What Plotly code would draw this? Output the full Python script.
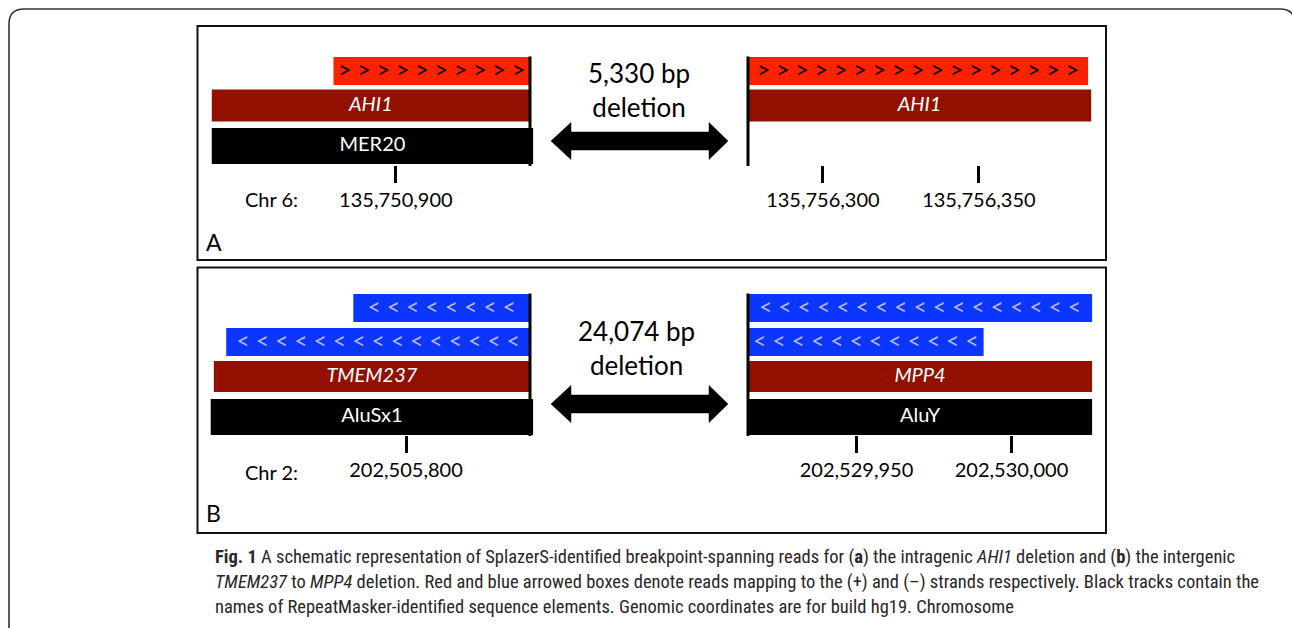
import plotly.graph_objects as go

W, H = 1292, 628

# ---------------- data (genomic coordinates, hg19) ----------------
# Panel A : intragenic AHI1 deletion, chr6
A_LEFT_BREAK = 135750943
A_RIGHT_BREAK = 135756276
A_LEFT_READS = [(135750880, 135750943)]            # (+) strand reads
A_RIGHT_READS = [(135756276, 135756385)]
A_LEFT_GENE = ("AHI1", 135750841, 135750943)
A_RIGHT_GENE = ("AHI1", 135756276, 135756386)
A_LEFT_REPEAT = ("MER20", 135750841, 135750944)
A_LEFT_TICKS = [135750900]
A_RIGHT_TICKS = [135756300, 135756350]
A_LEFT_GLYPHS = [10]
A_RIGHT_GLYPHS = [17]

# Panel B : intergenic TMEM237 -> MPP4 deletion, chr2
B_LEFT_BREAK = 202505840
B_RIGHT_BREAK = 202529915
B_LEFT_READS = [(202505783, 202505840), (202505742, 202505840)]   # (-) strand reads
B_RIGHT_READS = [(202529915, 202530026), (202529915, 202529991)]
B_LEFT_GENE = ("TMEM237", 202505738, 202505840)
B_RIGHT_GENE = ("MPP4", 202529915, 202530026)
B_LEFT_REPEAT = ("AluSx1", 202505737, 202505841)
B_RIGHT_REPEAT = ("AluY", 202529915, 202530026)
B_LEFT_TICKS = [202505800]
B_RIGHT_TICKS = [202529950, 202530000]
B_LEFT_GLYPHS = [8, 15]
B_RIGHT_GLYPHS = [17, 12]

DELETION_LABELS = ["5,330 bp<br>deletion", "24,074 bp<br>deletion"]
CHROM_LABELS = ["Chr 6:", "Chr 2:"]
PANEL_LABELS = ["A", "B"]

# ---------------- layout / style constants ----------------
FONT = "Lato"
RED_READ = "#FF2200"
BLUE_READ = "#0A36FF"
GENE_COL = "#921000"
REPEAT_COL = "#000000"
PX_PER_BP_A = 3.12
PX_PER_BP_B = 3.10
GLYPH_PITCH_PX = 19.3
LEFT_BREAK_PX, RIGHT_BREAK_PX = 530, 748
LEFT_DOM, RIGHT_DOM = (205, 540), (740, 1100)

# track rows (top, bottom) in pixels
A_ROWS = {"read": [(57, 85)], "gene": (89.5, 121.5), "repeat": (128, 164), "axis": 165}
B_ROWS = {"read": [(294, 322), (328, 356)], "gene": (361, 392), "repeat": (399, 435), "axis": 435}


def fx(px):
    return px / W


def fy(py):
    return 1 - py / H


fig = go.Figure()


def axis_range(dom, anchor_px, anchor_bp, s):
    return [anchor_bp + (dom[0] - anchor_px) / s, anchor_bp + (dom[1] - anchor_px) / s]


def add_bar(xa, start, end, rows, color):
    top, bot = rows
    fig.add_trace(go.Bar(
        orientation="h", base=[start], x=[end - start], y=[(top + bot) / 2],
        width=[bot - top], marker=dict(color=color, line=dict(width=0)),
        xaxis=xa, yaxis="y", hoverinfo="skip", showlegend=False))


def add_text(xa, xs, y, texts, size, color, family=FONT):
    fig.add_trace(go.Scatter(
        x=list(xs), y=[y] * len(xs), mode="text", text=list(texts),
        textfont=dict(family=family, size=size, color=color),
        textposition="middle center", xaxis=xa, yaxis="y",
        hoverinfo="skip", showlegend=False, cliponaxis=False))


def half(xa, reads, glyphs, strand, gene, repeat, rows, scale):
    pitch = GLYPH_PITCH_PX / scale
    for (s, e), n, r in zip(reads, glyphs, rows["read"]):
        col = RED_READ if strand == "+" else BLUE_READ
        add_bar(xa, s, e, r, col)
        g = ">" if strand == "+" else "<"
        gcol = "#000000" if strand == "+" else "#B9B9CF"
        mid = (s + e) / 2
        xs = [mid + (i - (n - 1) / 2) * pitch for i in range(n)]
        add_text(xa, xs, (r[0] + r[1]) / 2 + 1, [g] * n, 23, gcol, family="Lato")
    if gene:
        name, s, e = gene
        add_bar(xa, s, e, rows["gene"], GENE_COL)
        add_text(xa, [(s + e) / 2], sum(rows["gene"]) / 2, ["<i>%s</i>" % name], 20, "white")
    if repeat:
        name, s, e = repeat
        add_bar(xa, s, e, rows["repeat"], REPEAT_COL)
        add_text(xa, [(s + e) / 2], sum(rows["repeat"]) / 2, [name], 20, "white")


half("x", A_LEFT_READS, A_LEFT_GLYPHS, "+", A_LEFT_GENE, A_LEFT_REPEAT, A_ROWS, PX_PER_BP_A)
half("x2", A_RIGHT_READS, A_RIGHT_GLYPHS, "+", A_RIGHT_GENE, None, A_ROWS, PX_PER_BP_A)
half("x3", B_LEFT_READS, B_LEFT_GLYPHS, "-", B_LEFT_GENE, B_LEFT_REPEAT, B_ROWS, PX_PER_BP_B)
half("x4", B_RIGHT_READS, B_RIGHT_GLYPHS, "-", B_RIGHT_GENE, B_RIGHT_REPEAT, B_ROWS, PX_PER_BP_B)


def xaxis(dom, anchor_px, anchor_bp, s, ticks, axis_py):
    return dict(domain=[fx(dom[0]), fx(dom[1])],
                range=axis_range(dom, anchor_px, anchor_bp, s),
                anchor="free", position=fy(axis_py),
                tickmode="array", tickvals=ticks, tickformat=",d",
                ticks="outside", ticklen=17, tickwidth=3, tickcolor="black",
                showgrid=False, zeroline=False, showline=False, fixedrange=True,
                tickfont=dict(family=FONT, size=20, color="black"))


shapes = []
# outer rounded frame
shapes.append(dict(type="path", xref="paper", yref="paper",
                   path="M %f,%f L %f,%f Q %f,%f %f,%f L %f,%f Q %f,%f %f,%f L %f,%f" % (
                       fx(9), fy(660), fx(9), fy(24), fx(9), fy(9), fx(24), fy(9),
                       fx(1280), fy(9), fx(1295), fy(9), fx(1295), fy(24), fx(1295), fy(660)),
                   line=dict(color="#333333", width=1.6)))
# panel boxes
for (t, b) in [(26, 260), (267.5, 533)]:
    shapes.append(dict(type="rect", xref="paper", yref="paper",
                       x0=fx(197.5), x1=fx(1106), y0=fy(b), y1=fy(t),
                       line=dict(color="#111111", width=2)))
# breakpoint lines
for xa, bp, rows in [("x", A_LEFT_BREAK, A_ROWS), ("x2", A_RIGHT_BREAK, A_ROWS),
                     ("x3", B_LEFT_BREAK, B_ROWS), ("x4", B_RIGHT_BREAK, B_ROWS)]:
    shapes.append(dict(type="line", xref=xa, yref="y", x0=bp, x1=bp,
                       y0=rows["read"][0][0] - 0.5, y1=rows["axis"] + 1,
                       line=dict(color="black", width=3)))


# double-headed deletion arrows
def dbl_arrow(cy):
    pts = [(551, cy), (571, cy - 18.5), (571, cy - 9), (709, cy - 9), (709, cy - 18.5),
           (728, cy), (709, cy + 18.5), (709, cy + 9), (571, cy + 9), (571, cy + 18.5)]
    return "M " + " L ".join("%f,%f" % (fx(a), fy(b)) for a, b in pts) + " Z"


for cy in (141, 404):
    shapes.append(dict(type="path", xref="paper", yref="paper", path=dbl_arrow(cy),
                       fillcolor="black", line=dict(color="black", width=0.5)))

annotations = []
for lab, cy, cx in zip(DELETION_LABELS, (90, 348), (639, 636)):
    annotations.append(dict(text=lab, x=fx(cx), y=fy(cy), xref="paper", yref="paper",
                            showarrow=False, xanchor="center", yanchor="middle",
                            font=dict(family=FONT, size=26, color="black")))
for lab, cy in zip(CHROM_LABELS, (199, 472)):
    annotations.append(dict(text=lab, x=fx(271), y=fy(cy), xref="paper", yref="paper",
                            showarrow=False, xanchor="center", yanchor="middle",
                            font=dict(family=FONT, size=20, color="black")))
for lab, cy in zip(PANEL_LABELS, (242, 513)):
    annotations.append(dict(text=lab, x=fx(213.5), y=fy(cy), xref="paper", yref="paper",
                            showarrow=False, xanchor="center", yanchor="middle",
                            font=dict(family=FONT, size=23, color="black")))

CAPTION = [
    "<b>Fig. 1</b> A schematic representation of SplazerS-identified breakpoint-spanning reads for "
    "(<b>a</b>) the intragenic <i>AHI1</i> deletion and (<b>b</b>) the intergenic",
    "<i>TMEM237</i> to <i>MPP4</i> deletion. Red and blue arrowed boxes denote reads mapping to the "
    "(+) and (\u2013) strands respectively. Black tracks contain the",
    "names of RepeatMasker-identified sequence elements. Genomic coordinates are for build hg19. Chromosome",
]
for line, cy in zip(CAPTION, (557, 582, 607)):
    annotations.append(dict(text=line, x=fx(213), y=fy(cy), xref="paper", yref="paper",
                            showarrow=False, xanchor="left", yanchor="middle",
                            font=dict(family="Liberation Sans Narrow, Roboto Condensed, Liberation Sans",
                                      size=18.5, color="#2A2627")))

fig.update_layout(
    width=W, height=H, autosize=False,
    margin=dict(l=0, r=0, t=0, b=0),
    paper_bgcolor="white", plot_bgcolor="rgba(0,0,0,0)",
    barmode="overlay", showlegend=False,
    xaxis=xaxis(LEFT_DOM, LEFT_BREAK_PX, A_LEFT_BREAK, PX_PER_BP_A, A_LEFT_TICKS, A_ROWS["axis"]),
    xaxis2=xaxis(RIGHT_DOM, RIGHT_BREAK_PX, A_RIGHT_BREAK, PX_PER_BP_A, A_RIGHT_TICKS, A_ROWS["axis"]),
    xaxis3=xaxis(LEFT_DOM, LEFT_BREAK_PX, B_LEFT_BREAK, PX_PER_BP_B, B_LEFT_TICKS, B_ROWS["axis"]),
    xaxis4=xaxis(RIGHT_DOM, RIGHT_BREAK_PX, B_RIGHT_BREAK, PX_PER_BP_B, B_RIGHT_TICKS, B_ROWS["axis"]),
    yaxis=dict(domain=[0, 1], range=[H, 0], visible=False, fixedrange=True),
    shapes=shapes, annotations=annotations,
)

fig.write_html("out.html", config={"displayModeBar": False})
